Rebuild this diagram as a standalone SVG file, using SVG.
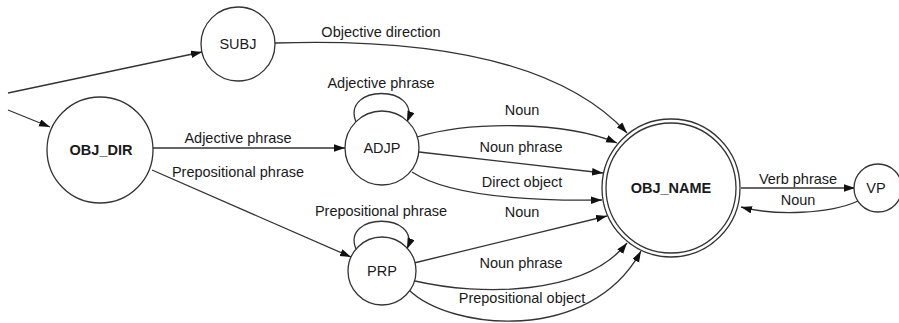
<svg xmlns="http://www.w3.org/2000/svg" width="899" height="323" viewBox="0 0 899 323">
  <style>
    .node circle { fill: #fff; stroke: #333; stroke-width: 1.3; }
    .node text, .lbl { font-family: "Liberation Sans", Arial, sans-serif; font-size: 14.5px; fill: #1a1a1a; text-anchor: middle; }
    .bold { font-weight: bold; }
    .edges path { fill: none; stroke: #333; stroke-width: 1.3; marker-end: url(#arrow); }
  </style>
  <defs>
    <marker id="arrow" markerUnits="userSpaceOnUse" markerWidth="12" markerHeight="8" refX="11" refY="3.75" orient="auto">
      <path d="M0,0 L11,3.75 L0,7.5 z" fill="#111"/>
    </marker>
  </defs>
  <rect width="899" height="323" fill="#fff"/>

  <g id="connectors" class="edges">
    <!-- entry arrows -->
    <path d="M8,93 L202,52"/>
    <path d="M8,110 L50,127"/>
    <!-- SUBJ -> OBJ_NAME -->
    <path d="M275,43 C430,38 560,60 627,133"/>
    <!-- OBJ_DIR -> ADJP / PRP -->
    <path d="M153,148 L345,148"/>
    <path d="M152,170 L351,257"/>
    <!-- self loops -->
    <path d="M356,122 C341,84 422,84 407,122"/>
    <path d="M356,249 C341,212 422,212 407,249"/>
    <!-- ADJP -> OBJ_NAME -->
    <path d="M417,137 C470,121 565,121 617,143"/>
    <path d="M419,152 L603,173"/>
    <path d="M412,172 C450,197 530,201 602,200"/>
    <!-- PRP -> OBJ_NAME -->
    <path d="M414,263 L607,216"/>
    <path d="M415,281 C480,296 585,296 627,243"/>
    <path d="M409,290 C450,330 590,345 641,251"/>
    <!-- OBJ_NAME <-> VP -->
    <path d="M741,188 L855,188"/>
    <path d="M858,201 C830,214 775,216 741,207"/>
  </g>

  <g id="edge-labels">
    <text class="lbl" x="381" y="37">Objective direction</text>
    <text class="lbl" x="381" y="88">Adjective phrase</text>
    <text class="lbl" x="238" y="143">Adjective phrase</text>
    <text class="lbl" x="238" y="177">Prepositional phrase</text>
    <text class="lbl" x="522" y="115">Noun</text>
    <text class="lbl" x="521" y="152">Noun phrase</text>
    <text class="lbl" x="522" y="187">Direct object</text>
    <text class="lbl" x="381" y="216">Prepositional phrase</text>
    <text class="lbl" x="522" y="217">Noun</text>
    <text class="lbl" x="521" y="268">Noun phrase</text>
    <text class="lbl" x="522" y="303">Prepositional object</text>
    <text class="lbl" x="798" y="184">Verb phrase</text>
    <text class="lbl" x="798" y="205">Noun</text>
  </g>

  <g id="node-subj" class="node">
    <circle cx="238" cy="44" r="37"/>
    <text x="238" y="49">SUBJ</text>
  </g>
  <g id="node-obj-dir" class="node">
    <circle cx="100" cy="150" r="53"/>
    <text class="bold" x="101" y="155">OBJ_DIR</text>
  </g>
  <g id="node-adjp" class="node">
    <circle cx="382" cy="148" r="37"/>
    <text x="382" y="153">ADJP</text>
  </g>
  <g id="node-prp" class="node">
    <circle cx="382" cy="271" r="34"/>
    <text x="382" y="276">PRP</text>
  </g>
  <g id="node-obj-name" class="node">
    <circle cx="671" cy="188" r="69"/>
    <circle cx="671" cy="188" r="65"/>
    <text class="bold" x="671" y="193">OBJ_NAME</text>
  </g>
  <g id="node-vp" class="node">
    <circle cx="878" cy="188" r="24"/>
    <text x="876" y="193">VP</text>
  </g>
</svg>
